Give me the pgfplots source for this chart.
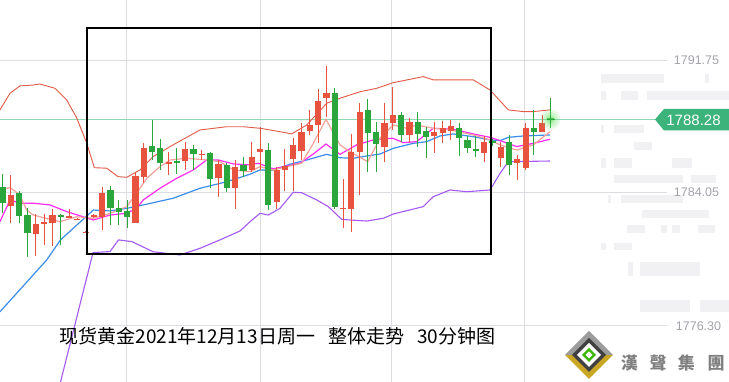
\documentclass[border=0pt]{standalone}
\usepackage{pgfplots}
\pgfplotsset{compat=1.18}
\usepackage{pgfplotstable}
\usepackage{fontspec}
\setmainfont{Liberation Sans}
\newfontfamily\cjk{Noto Sans CJK SC}
\newfontfamily\cjktc{Noto Sans CJK TC}

\definecolor{upred}{HTML}{E8533F}
\definecolor{dngreen}{HTML}{2BA63C}
\definecolor{bandup}{HTML}{E25A45}
\definecolor{mafive}{HTML}{F5A39B}
\definecolor{maten}{HTML}{FF2EF0}
\definecolor{matwenty}{HTML}{3A8EEA}
\definecolor{bandlo}{HTML}{A55AF5}
\definecolor{gridc}{HTML}{DCDCE2}
\definecolor{pricel}{HTML}{8ED8B4}
\definecolor{pricebox}{HTML}{3BB37B}
\definecolor{lbl}{HTML}{A3A3AB}
\definecolor{goldc}{HTML}{C9A623}
\definecolor{silverc}{HTML}{9C9C9C}
\definecolor{bgbar}{HTML}{F1F1F4}
\definecolor{glow}{HTML}{5FE35A}

% x o h l c  (red = rising candles)
\pgfplotstableread{
x o h l c
1 1783.26 1785.05 1782.27 1783.88
4 1781.59 1782.77 1780.34 1782.19
5 1782.21 1782.77 1780.96 1782.29
6 1782.26 1783.10 1780.92 1782.73
8 1782.58 1783.10 1782.52 1782.66
9 1782.45 1782.54 1782.42 1782.51
10 1781.69 1781.78 1781.66 1781.75
11 1782.63 1782.77 1782.54 1782.68
12 1782.61 1784.36 1781.85 1783.98
16 1782.26 1785.24 1782.25 1784.99
17 1784.95 1786.89 1784.56 1786.64
20 1785.67 1786.39 1785.05 1785.82
22 1785.88 1786.99 1785.34 1786.56
24 1786.22 1786.50 1785.92 1786.28
26 1784.89 1785.92 1783.75 1785.69
28 1784.31 1785.92 1783.06 1785.53
30 1785.34 1786.99 1785.24 1786.11
31 1786.40 1787.83 1785.34 1786.56
33 1783.49 1785.53 1783.10 1785.34
34 1785.34 1786.60 1784.13 1785.57
35 1785.96 1787.19 1784.13 1786.80
36 1786.46 1788.06 1785.92 1787.57
37 1787.63 1788.84 1787.38 1787.96
38 1787.96 1790.04 1786.93 1789.36
39 1789.52 1791.40 1788.45 1789.83
41 1783.09 1784.81 1781.97 1783.15
42 1783.06 1787.44 1781.74 1786.37
43 1786.40 1789.26 1783.88 1788.72
46 1786.70 1789.26 1785.82 1788.10
47 1788.10 1790.19 1787.67 1788.54
49 1787.38 1788.35 1786.99 1788.15
52 1787.34 1788.15 1786.35 1787.57
53 1787.51 1788.19 1786.93 1787.77
54 1787.63 1788.25 1787.09 1787.90
58 1786.35 1787.32 1785.82 1786.99
60 1786.02 1786.99 1785.53 1786.70
62 1785.73 1786.21 1784.75 1785.98
63 1785.49 1788.06 1785.34 1787.77
65 1787.57 1788.54 1787.57 1788.06
}\upcandles

% falling candles
\pgfplotstableread{
x o h l c
0 1784.36 1785.09 1782.81 1783.40
2 1784.01 1784.11 1782.25 1782.67
3 1782.71 1783.12 1780.26 1781.68
7 1782.73 1782.77 1780.96 1782.58
13 1784.17 1784.41 1782.13 1783.14
14 1783.10 1783.59 1782.13 1782.91
15 1782.95 1783.59 1781.96 1782.58
18 1786.74 1788.25 1785.92 1786.40
19 1786.60 1787.14 1785.34 1785.73
21 1785.86 1786.60 1785.14 1785.73
23 1786.54 1786.80 1785.34 1786.25
25 1786.31 1786.40 1784.33 1784.85
27 1785.63 1785.73 1784.07 1784.31
29 1785.63 1786.08 1784.95 1785.28
32 1786.50 1786.93 1783.00 1783.30
40 1789.83 1790.10 1783.05 1783.20
44 1788.84 1789.46 1785.24 1787.48
45 1787.57 1788.15 1785.24 1786.84
48 1788.54 1788.74 1786.99 1787.38
50 1788.15 1788.74 1786.70 1787.44
51 1787.61 1787.86 1786.05 1787.28
55 1787.77 1788.10 1786.15 1787.19
56 1787.09 1787.32 1786.35 1786.64
57 1786.56 1787.32 1786.11 1786.50
59 1787.01 1787.14 1786.74 1786.95
61 1786.99 1787.38 1785.05 1785.63
64 1787.77 1788.84 1786.21 1787.57
66 1788.36 1789.52 1787.77 1788.28
}\dncandles

\begin{document}
\begin{tikzpicture}
\useasboundingbox (0,0) rectangle (729bp,382bp);
\fill[white] (0,0) rectangle (729bp,382bp);
% faint background pattern and grid, in pixel coordinates
\begin{scope}[x=1bp,y=-1bp,shift={(0,382bp)}]
  \foreach \xa/\ya/\xb/\yb in {601/74/664/83, 705/74/709/83, 601/91/606/100, 621/91/638/100, 647/91/729/100,
      601/125/604/133, 614/125/644/133, 634/142/652/150, 601/158/606/168, 614/158/632/168, 672/158/692/168,
      614/175/683/183, 691/175/716/183, 608/195/611/203, 621/195/683/203, 642/210/709/218,
      627/225/645/233, 661/225/667/233, 672/225/680/233, 698/225/715/233, 601/243/606/250, 614/243/632/250,
      628/262/633/276, 640/262/700/276, 700/300/729/312, 640/300/690/312}
    {\fill[bgbar] (\xa,\ya) rectangle (\xb,\yb);}
  \foreach \gx in {126.7,260,391.7,524}{\draw[gridc, line width=0.9bp] (\gx,0) -- (\gx,382);}
  \foreach \gy in {60,192.1,325}{\draw[gridc, line width=0.9bp] (0,\gy) -- (667,\gy);}
  \draw[pricel, line width=1bp] (0,119.5) -- (729,119.5);
\end{scope}

\begin{axis}[at={(0,0)}, anchor=south west, width=729bp, height=382bp, scale only axis,
  xmin=-0.325, xmax=87.506, ymin=1772.974, ymax=1795.249,
  axis line style={draw=none}, ticks=none, clip=true]

% Bollinger upper
\addplot[bandup, line width=0.9bp] coordinates {
(-0.33,1788.84) (0.88,1789.81) (2.08,1790.24) (3.65,1790.29) (4.49,1790.35) (6.30,1790.10)
(7.71,1789.42) (8.92,1788.37) (10.12,1786.91) (11.04,1785.47) (12.53,1785.44) (13.89,1784.95)
(14.94,1784.91) (16.54,1785.34) (18.11,1786.11) (20.52,1786.80) (23.77,1787.67) (26.99,1787.86)
(28.95,1787.86) (31.00,1787.77) (33.41,1787.57) (34.82,1787.44) (36.63,1787.96) (39.04,1789.23)
(40.64,1789.52) (43.05,1789.90) (45.06,1790.10) (47.06,1790.43) (50.67,1790.78) (51.88,1790.59)
(56.70,1790.59) (58.71,1790.00) (60.92,1788.84) (62.72,1788.74) (63.89,1788.74) (65.94,1788.84)};
% Bollinger lower
\addplot[bandlo, line width=1.1bp] coordinates {
(5.70,1770.53) (10.88,1780.52) (12.93,1780.58) (13.95,1781.26) (15.58,1781.16) (18.11,1780.57)
(21.36,1780.38) (23.77,1780.77) (26.18,1781.26) (28.59,1781.78) (29.80,1782.32) (31.00,1782.81)
(32.00,1782.71) (33.41,1783.10) (35.01,1784.04) (36.02,1784.01) (37.83,1783.59) (39.23,1783.20)
(40.84,1782.46) (41.84,1782.42) (43.86,1782.36) (45.86,1782.52) (47.06,1782.77) (50.67,1783.20)
(51.88,1783.78) (53.89,1784.17) (55.90,1784.07) (58.71,1784.17) (59.92,1785.14) (60.92,1785.82)
(65.94,1785.86)};
% slow MA (blue)
\addplot[matwenty, line width=1.2bp] coordinates {
(-0.33,1777.07) (5.30,1780.09) (6.96,1781.26) (10.92,1783.00) (12.93,1782.95) (14.94,1783.10)
(16.94,1783.30) (20.55,1783.69) (23.77,1784.27) (26.99,1784.65) (29.80,1785.09) (31.00,1785.34)
(32.60,1785.34) (34.61,1785.67) (36.63,1785.92) (39.04,1786.25) (40.64,1786.05) (42.24,1786.02)
(43.86,1786.15) (45.46,1786.27) (47.06,1786.60) (49.47,1786.89) (51.08,1786.99) (52.69,1787.32)
(54.29,1787.44) (56.70,1787.28) (58.71,1787.09) (59.92,1787.05) (60.92,1787.24) (62.72,1787.32)
(65.94,1787.38)};
% MA (magenta)
\addplot[maten, line width=1.2bp] coordinates {
(-0.33,1782.32) (0.88,1783.59) (2.08,1783.40) (3.69,1783.40) (5.70,1783.30) (7.71,1782.91)
(10.92,1782.42) (12.93,1782.71) (14.94,1782.81) (16.14,1783.10) (16.94,1783.59) (18.95,1784.27)
(20.96,1784.85) (22.96,1785.34) (24.58,1785.92) (25.98,1785.92) (27.78,1785.69) (29.80,1785.63)
(30.80,1785.73) (32.60,1785.40) (35.82,1785.73) (37.42,1786.27) (38.95,1786.85) (40.64,1786.25)
(42.65,1786.80) (44.65,1787.09) (46.99,1787.19) (48.27,1786.93) (49.88,1786.99) (51.88,1787.77)
(54.29,1787.71) (56.70,1787.44) (58.71,1787.24) (59.92,1787.05) (61.93,1786.70) (63.93,1786.89)
(65.94,1787.13)};
% MA (salmon)
\addplot[mafive, line width=1.2bp] coordinates {
(-0.33,1784.17) (0.88,1784.31) (2.08,1783.88) (2.89,1783.00) (3.69,1782.71) (5.70,1782.46)
(6.90,1782.32) (8.92,1782.61) (10.92,1782.52) (12.93,1782.81) (14.94,1783.20) (16.14,1783.98)
(17.35,1784.85) (18.95,1785.53) (20.16,1785.92) (22.17,1786.02) (24.58,1785.92) (26.18,1785.82)
(27.78,1785.34) (29.80,1785.24) (31.00,1785.53) (32.60,1785.34) (36.02,1785.73) (37.42,1786.89)
(38.95,1788.29) (40.64,1786.80) (41.84,1786.40) (43.98,1785.82) (45.46,1787.19) (47.06,1787.96)
(48.67,1787.77) (49.88,1787.96) (51.88,1787.77) (53.89,1787.67) (56.70,1787.38) (58.71,1787.09)
(59.92,1786.80) (61.93,1786.50) (63.93,1786.80) (65.94,1787.57)};

% wicks
\addplot[draw=none, mark=none, error bars/.cd, y dir=both, y explicit, error mark=none,
  error bar style={draw=upred, line width=1bp}]
  table[x=x, y expr=(\thisrow{h}+\thisrow{l})/2, y error expr=(\thisrow{h}-\thisrow{l})/2] {\upcandles};
\addplot[draw=none, mark=none, error bars/.cd, y dir=both, y explicit, error mark=none,
  error bar style={draw=dngreen, line width=1bp}]
  table[x=x, y expr=(\thisrow{h}+\thisrow{l})/2, y error expr=(\thisrow{h}-\thisrow{l})/2] {\dncandles};
% bodies
\addplot[draw=none, mark=none, error bars/.cd, y dir=both, y explicit, error mark=none,
  error bar style={draw=upred, line width=6.2bp}]
  table[x=x, y expr=(\thisrow{o}+\thisrow{c})/2, y error expr={max(abs(\thisrow{o}-\thisrow{c})/2,0.035)}] {\upcandles};
\addplot[draw=none, mark=none, error bars/.cd, y dir=both, y explicit, error mark=none,
  error bar style={draw=dngreen, line width=6.2bp}]
  table[x=x, y expr=(\thisrow{o}+\thisrow{c})/2, y error expr={max(abs(\thisrow{o}-\thisrow{c})/2,0.035)}] {\dncandles};

% glow on the last price
\addplot[only marks, mark=*, mark size=10bp, mark options={draw opacity=0, fill=glow, fill opacity=0.14}] coordinates {(66,1788.28)};
\addplot[only marks, mark=*, mark size=7.5bp, mark options={draw opacity=0, fill=glow, fill opacity=0.18}] coordinates {(66,1788.28)};
\addplot[only marks, mark=*, mark size=5bp, mark options={draw opacity=0, fill=glow, fill opacity=0.24}] coordinates {(66,1788.28)};
\addplot[only marks, mark=*, mark size=2.8bp, mark options={draw opacity=0, fill=glow, fill opacity=0.35}] coordinates {(66,1788.28)};
\addplot[only marks, mark=+, mark size=4bp, mark options={draw=dngreen, line width=1bp}] coordinates {(66,1788.28)};
\end{axis}

\begin{scope}[x=1bp,y=-1bp,shift={(0,382bp)}]
  % annotation box
  \draw[black, line width=1.2bp] (87,28) rectangle (491,254);
  % right-hand price labels
  \node[lbl, font=\fontsize{12.5bp}{14bp}\selectfont, inner sep=0] at (696.5,60) {1791.75};
  \node[lbl, font=\fontsize{12.5bp}{14bp}\selectfont, inner sep=0] at (696.5,192.1) {1784.05};
  \node[lbl, font=\fontsize{12.5bp}{14bp}\selectfont, inner sep=0] at (698.5,326) {1776.30};
  % current price tag
  \fill[pricebox] (655,119.5) -- (664,109) -- (729,109) -- (729,130.5) -- (664,130.5) -- cycle;
  \node[white, font=\fontsize{15bp}{17bp}\selectfont, inner sep=0] at (693.5,120) {1788.28};
  % title
  \node[anchor=base west, inner sep=0, font=\cjk\fontsize{19bp}{21bp}\selectfont] at (59.5,344)
    {现货黄金2021年12月13日周一\hspace{13bp}整体走势\hspace{13bp}30分钟图};
  % logo
  \fill[goldc] (565,355) -- (613,355) -- (589,379) -- cycle;
  \fill[silverc] (565,355) -- (589,331) -- (613,355) -- cycle;
  \fill[black!75] (572,355) -- (589,338) -- (606,355) -- (589,372) -- cycle;
  \fill[white] (577,355) -- (589,343) -- (601,355) -- (589,367) -- cycle;
  \fill[green!60!black!70!lime] (582,355) -- (589,348) -- (596,355) -- (589,362) -- cycle;
  \fill[white] (585.5,355) -- (589,351.5) -- (592.5,355) -- (589,358.5) -- cycle;
  \foreach \cx/\ch in {629.4/漢,658/聲,686.4/集,716/團}{
    \node[black!50, font=\cjktc\bfseries\fontsize{17bp}{18bp}\selectfont, inner sep=0] at (\cx,363) {\ch};}
\end{scope}
\end{tikzpicture}
\end{document}
